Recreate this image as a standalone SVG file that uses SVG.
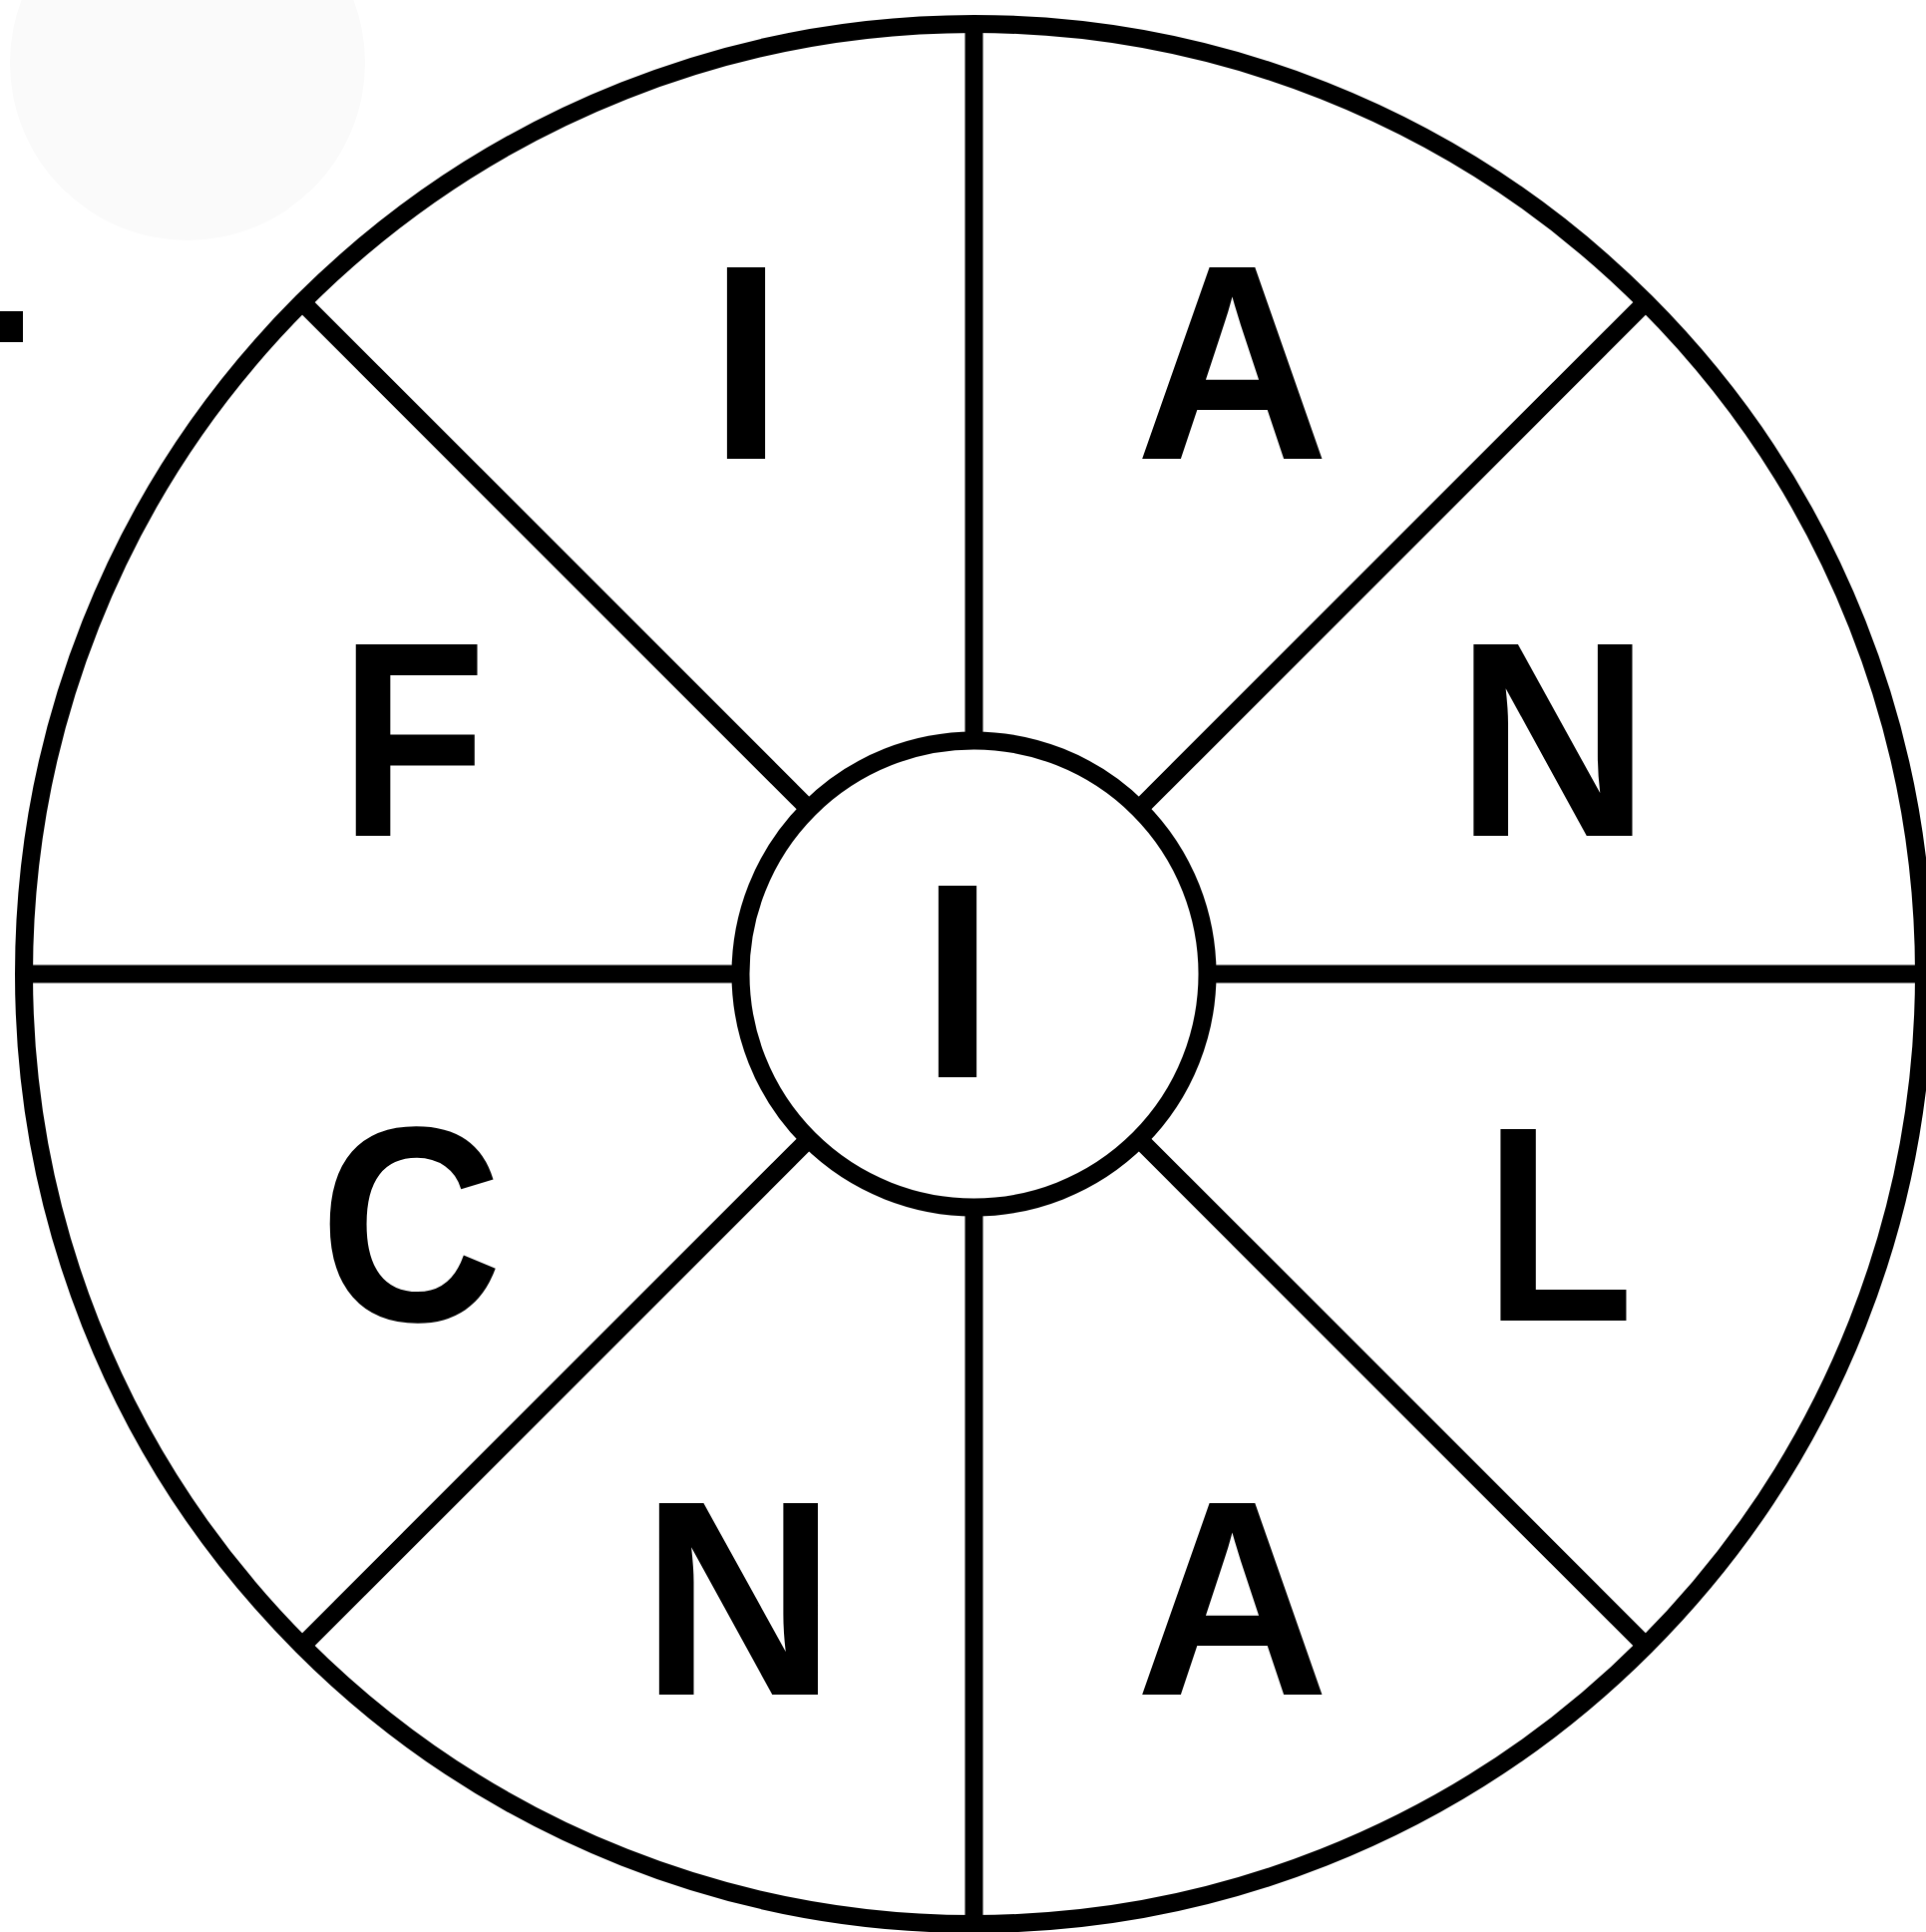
<svg xmlns="http://www.w3.org/2000/svg" width="1931" height="1937" viewBox="0 0 1931 1937">
<style>
.ring{fill:#ffffff;stroke:#000000;stroke-width:18}
.spoke{stroke:#000000;stroke-width:18;stroke-linecap:butt;fill:none}
.lbl{font-family:"Liberation Sans",Arial,sans-serif;font-weight:bold;font-size:279px;fill:#000000;text-anchor:middle}
</style>
<rect x="0" y="0" width="1931" height="1937" fill="#ffffff"/>
<circle cx="188" cy="63" r="178" fill="#fafafa"/>
<rect x="0" y="312" width="23" height="31" fill="#000000"/>
<g id="outer-wheel">
<circle class="ring" cx="976.5" cy="976.5" r="952.5"/>
</g>
<g id="connectors">
<line class="spoke" x1="976.5" y1="24" x2="976.5" y2="742.5"/>
<line class="spoke" x1="976.5" y1="1210.5" x2="976.5" y2="1929"/>
<line class="spoke" x1="24" y1="976.5" x2="742.5" y2="976.5"/>
<line class="spoke" x1="1210.5" y1="976.5" x2="1929" y2="976.5"/>
<line class="spoke" x1="303" y1="303" x2="811" y2="811"/>
<line class="spoke" x1="1650" y1="303" x2="1142" y2="811"/>
<line class="spoke" x1="303" y1="1650" x2="811" y2="1142"/>
<line class="spoke" x1="1650" y1="1650" x2="1142" y2="1142"/>
</g>
<g id="center">
<circle class="ring" cx="976.5" cy="976.5" r="234"/>
<text class="lbl" transform="translate(960,1080) scale(0.95,1)">I</text>
</g>
<g id="seg-I"><text class="lbl" transform="translate(748,460) scale(0.95,1)">I</text></g>
<g id="seg-A-top"><text class="lbl" transform="translate(1235.5,460) scale(0.963,1)">A</text></g>
<g id="seg-F"><text class="lbl" transform="translate(414,838) scale(0.86,1)">F</text></g>
<g id="seg-N-right"><text class="lbl" transform="translate(1557,838) scale(0.97,1)">N</text></g>
<g id="seg-C"><text class="lbl" transform="translate(412,1324) scale(0.91,1)">C</text></g>
<g id="seg-L"><text class="lbl" transform="translate(1563,1324) scale(0.88,1)">L</text></g>
<g id="seg-N-bottom"><text class="lbl" transform="translate(740.5,1699) scale(0.97,1)">N</text></g>
<g id="seg-A-bottom"><text class="lbl" transform="translate(1235.5,1699) scale(0.963,1)">A</text></g>
</svg>
